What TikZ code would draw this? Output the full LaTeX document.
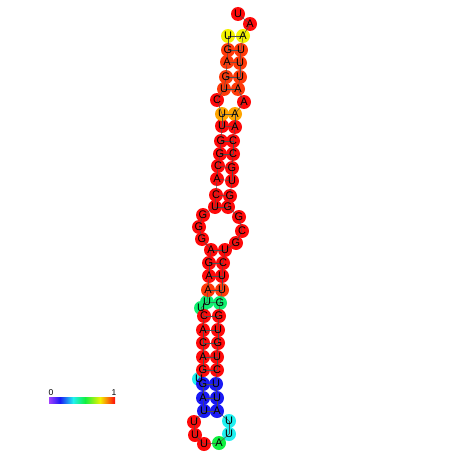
\documentclass[tikz,border=0pt]{standalone}
\usepackage{fontspec}
\setmainfont{Liberation Sans}
\definecolor{cred}{HTML}{FF0A0A}
\definecolor{cored}{HTML}{FF3A0A}
\definecolor{corng}{HTML}{FFA500}
\definecolor{cyel}{HTML}{F2F200}
\definecolor{cgrn}{HTML}{10F070}
\definecolor{cgrnb}{HTML}{10F040}
\definecolor{cblue}{HTML}{1A1AF5}
\definecolor{ccyan}{HTML}{20F0F0}
\definecolor{cpurp}{HTML}{A040FF}
\definecolor{lcol}{HTML}{505050}
\begin{document}
\begin{tikzpicture}[x=1pt,y=-1pt,
  nt/.style={circle,minimum size=14pt,inner sep=0pt,draw=none},
  ntxt/.style={inner sep=0pt,font=\fontsize{11}{11}\selectfont},
  bb/.style={draw=lcol,line width=0.5pt},
  lbl/.style={inner sep=0pt,font=\fontsize{8.5}{8.5}\selectfont}]
\useasboundingbox (0,0) rectangle (452,452);
\fill[white] (0,0) rectangle (452,452);
% bulges drawn first (behind)
\foreach \i/\x/\y/\l/\c in {42/199/379/U/ccyan,48/201/308/U/cgrn}{
  \node[nt,fill=\c] (n\i) at (\x,\y) {};
}
\foreach \i/\x/\y/\l/\c in {
1/238/14/U/cred,2/250/24/A/cred,3/243/36/A/cyel,4/241/50/U/cored,5/240/63/U/cored,
6/240/77/U/cored,7/238/89/A/cored,8/244/102/A/cred,9/235/114/A/corng,10/235/127/A/cred,
11/233/141/C/cred,12/233/154/C/cred,13/232/168/G/cred,14/232/181/U/cred,15/230/196/G/cred,
16/228/207/G/cred,17/239/217/G/cred,18/242/231/C/cred,19/236/243/G/cred,20/225/250/U/cred,
21/223/263/C/cred,22/222/276/U/cred,23/222/290/U/cored,24/220/303/G/cgrn,25/219/316/G/cred,
26/218/330/U/cred,27/218/343/G/cred,28/217/357/U/cred,29/217/370/C/cred,30/216/384/U/cblue,
31/217/398/U/cblue,32/217/411/A/cblue,33/229/421/U/ccyan,34/229/434/U/ccyan,35/219/443/A/cgrnb,
36/204/444/U/cred,37/195/435/U/cred,38/194/422/U/cred,39/204/411/U/cblue,40/203/398/A/cblue,
41/203/384/G/cblue,43/203/370/G/cred,44/203/357/A/cred,45/203/343/C/cred,
46/203/330/A/cred,47/204/316/C/cred,49/207/302/U/cgrn,50/208/290/A/cored,
51/209/276/A/cred,52/209/263/G/cred,53/211/250/A/cred,54/202/239/G/cred,55/199/227/G/cred,
56/203/215/G/cred,57/215/207/U/cred,58/216/195/C/cred,59/217/179/A/cred,60/218/166/C/cred,
61/220/154/G/cred,62/221/141/G/cred,63/222/126/U/cred,64/222/114/U/corng,65/217/100/C/cred,
66/224/89/U/cored,67/226/77/G/cored,68/227/62/A/cored,69/228/50/G/cored,70/228/36/U/cyel}{
  \node[nt,fill=\c] (n\i) at (\x,\y) {};
}
% backbone
\foreach \a [evaluate=\a as \b using int(\a+1)] in {1,...,69}{
  \draw[bb] (n\a.center) -- (n\b.center);
}
% base pairs
\foreach \a/\b in {3/70,4/69,5/68,6/67,7/66,9/64,10/63,11/62,12/61,13/60,14/59,15/58,16/57,
20/53,21/52,22/51,23/50,24/49,25/47,26/46,27/45,28/44,29/43,30/41,31/40,32/39}{
  \draw[bb] (n\a.center) -- (n\b.center);
}
% letters
\foreach \i/\l in {1/U,2/A,3/A,4/U,5/U,6/U,7/A,8/A,9/A,10/A,11/C,12/C,13/G,14/U,15/G,16/G,
17/G,18/C,19/G,20/U,21/C,22/U,23/U,24/G,25/G,26/U,27/G,28/U,29/C,30/U,31/U,32/A,33/U,34/U,
35/A,36/U,37/U,38/U,39/U,40/A,41/G,42/U,43/G,44/A,45/C,46/A,47/C,48/U,49/U,50/A,51/A,52/G,
53/A,54/G,55/G,56/G,57/U,58/C,59/A,60/C,61/G,62/G,63/U,64/U,65/C,66/U,67/G,68/A,69/G,70/U}{
  \node[ntxt] (t\i) at (n\i) {\l};
}
% colour bar
\shade[left color=cpurp,right color=cblue] (49,397) rectangle (60.2,403);
\shade[left color=cblue,right color=ccyan] (60,397) rectangle (73.2,403);
\shade[left color=ccyan,right color=cgrnb] (73,397) rectangle (85.2,403);
\shade[left color=cgrnb,right color=cyel] (85,397) rectangle (100.2,403);
\shade[left color=cyel,right color=cred] (100,397) rectangle (115,403);
\node[lbl] (l0) at (51,392.5) {0};
\node[lbl] (l1) at (114,392.5) {1};
\end{tikzpicture}
\end{document}
